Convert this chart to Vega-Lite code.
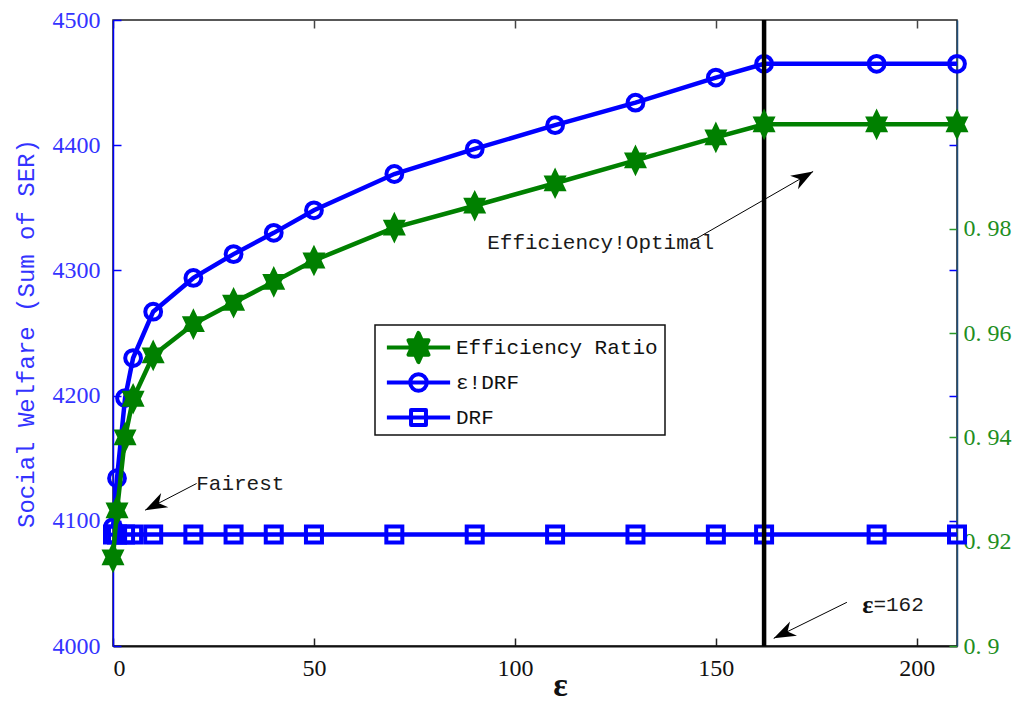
{
  "$schema": "https://vega.github.io/schema/vega-lite/v6.json",
  "width": 844,
  "height": 626,
  "autosize": "none",
  "padding": {"left": 113, "top": 20, "right": 59, "bottom": 55},
  "background": "white",
  "config": {"view": {"stroke": "#222222", "strokeWidth": 1.5}, "axis": {"grid": false}},
  "datasets": {
    "welfare": [
      {"eps": 0, "series": "ε!DRF", "value": 4095},
      {"eps": 1, "series": "ε!DRF", "value": 4134},
      {"eps": 3, "series": "ε!DRF", "value": 4198},
      {"eps": 5, "series": "ε!DRF", "value": 4230},
      {"eps": 10, "series": "ε!DRF", "value": 4267},
      {"eps": 20, "series": "ε!DRF", "value": 4294},
      {"eps": 30, "series": "ε!DRF", "value": 4313},
      {"eps": 40, "series": "ε!DRF", "value": 4330},
      {"eps": 50, "series": "ε!DRF", "value": 4348},
      {"eps": 70, "series": "ε!DRF", "value": 4377},
      {"eps": 90, "series": "ε!DRF", "value": 4397},
      {"eps": 110, "series": "ε!DRF", "value": 4416},
      {"eps": 130, "series": "ε!DRF", "value": 4434},
      {"eps": 150, "series": "ε!DRF", "value": 4454},
      {"eps": 162, "series": "ε!DRF", "value": 4465},
      {"eps": 190, "series": "ε!DRF", "value": 4465},
      {"eps": 210, "series": "ε!DRF", "value": 4465},
      {"eps": 0, "series": "DRF", "value": 4089},
      {"eps": 1, "series": "DRF", "value": 4089},
      {"eps": 3, "series": "DRF", "value": 4089},
      {"eps": 5, "series": "DRF", "value": 4089},
      {"eps": 10, "series": "DRF", "value": 4089},
      {"eps": 20, "series": "DRF", "value": 4089},
      {"eps": 30, "series": "DRF", "value": 4089},
      {"eps": 40, "series": "DRF", "value": 4089},
      {"eps": 50, "series": "DRF", "value": 4089},
      {"eps": 70, "series": "DRF", "value": 4089},
      {"eps": 90, "series": "DRF", "value": 4089},
      {"eps": 110, "series": "DRF", "value": 4089},
      {"eps": 130, "series": "DRF", "value": 4089},
      {"eps": 150, "series": "DRF", "value": 4089},
      {"eps": 162, "series": "DRF", "value": 4089},
      {"eps": 190, "series": "DRF", "value": 4089},
      {"eps": 210, "series": "DRF", "value": 4089}
    ],
    "ratio": [
      {"eps": 0, "series": "Efficiency Ratio", "value": 0.917},
      {"eps": 1, "series": "Efficiency Ratio", "value": 0.926},
      {"eps": 3, "series": "Efficiency Ratio", "value": 0.940},
      {"eps": 5, "series": "Efficiency Ratio", "value": 0.9474},
      {"eps": 10, "series": "Efficiency Ratio", "value": 0.9557},
      {"eps": 20, "series": "Efficiency Ratio", "value": 0.9617},
      {"eps": 30, "series": "Efficiency Ratio", "value": 0.9658},
      {"eps": 40, "series": "Efficiency Ratio", "value": 0.9698},
      {"eps": 50, "series": "Efficiency Ratio", "value": 0.9739},
      {"eps": 70, "series": "Efficiency Ratio", "value": 0.9802},
      {"eps": 90, "series": "Efficiency Ratio", "value": 0.9844},
      {"eps": 110, "series": "Efficiency Ratio", "value": 0.9887},
      {"eps": 130, "series": "Efficiency Ratio", "value": 0.9931},
      {"eps": 150, "series": "Efficiency Ratio", "value": 0.9975},
      {"eps": 162, "series": "Efficiency Ratio", "value": 1.0},
      {"eps": 190, "series": "Efficiency Ratio", "value": 1.0},
      {"eps": 210, "series": "Efficiency Ratio", "value": 1.0}
    ],
    "optimum": [{"eps": 162}],
    "notes": [
      {"eps": 93.1, "value": 4321.6, "text": "Efficiency!Optimal"},
      {"eps": 20.7, "value": 4129, "text": "Fairest"},
      {"eps": 189.2, "value": 4032.7, "text": "=162"}
    ],
    "symbolNote": [{"eps": 189.2, "value": 4032.7, "text": "ε"}],
    "arrows": [
      {"arrow": "optimal", "eps": 144.4, "value": 4324, "eps2": 174.2, "value2": 4379},
      {"arrow": "fairest", "eps": 20.8, "value": 4129.8, "eps2": 8, "value2": 4108.5},
      {"arrow": "eps162", "eps": 182.6, "value": 4034.9, "eps2": 164.4, "value2": 4006.1}
    ]
  },
  "layer": [
    {
      "layer": [
        {
          "data": {"name": "welfare"},
          "mark": {"type": "line", "strokeWidth": 4.5},
          "encoding": {
            "x": {
              "field": "eps", "type": "quantitative",
              "scale": {"domain": [0, 210], "nice": false, "zero": false},
              "axis": {
                "orient": "bottom", "values": [0, 50, 100, 150, 200],
                "tickSize": -8, "tickColor": "#222222", "tickWidth": 1.5,
                "domainColor": "#111111", "domainWidth": 2,
                "labelFont": "Liberation Serif", "labelFontSize": 24, "labelColor": "#111111", "labelPadding": 18,
                "title": "ε", "titleFont": "Liberation Serif", "titleFontSize": 34, "titleFontWeight": "bold",
                "titleColor": "#111111", "titleX": 447, "titleY": 49, "titleBaseline": "alphabetic"
              }
            },
            "y": {
              "field": "value", "type": "quantitative",
              "scale": {"domain": [4000, 4500], "nice": false, "zero": false},
              "axis": {
                "orient": "left", "values": [4000, 4100, 4200, 4300, 4400, 4500], "format": "d",
                "tickSize": -8, "tickColor": "#0000ff", "tickWidth": 1.5,
                "domainColor": "#0000ff", "domainWidth": 1.5,
                "labelFont": "Liberation Serif", "labelFontSize": 24, "labelColor": "#3333ff", "labelPadding": 21,
                "title": "Social Welfare (Sum of SER)", "titleFont": "Liberation Mono", "titleFontSize": 24,
                "titleFontWeight": "normal", "titleColor": "#3333ff", "titlePadding": 14
              }
            },
            "color": {
              "field": "series", "type": "nominal",
              "scale": {"domain": ["Efficiency Ratio", "ε!DRF", "DRF"], "range": ["#008000", "#0000ff", "#0000ff"]},
              "legend": {
                "title": null, "orient": "none", "legendX": 262, "legendY": 305,
                "padding": 7, "strokeColor": "#111111", "fillColor": "white",
                "labelFont": "Liberation Mono", "labelFontSize": 21, "labelColor": "#111111", "labelLimit": 400,
                "symbolSize": 700, "symbolStrokeWidth": 4, "rowPadding": 2, "gridAlign": "all",
                "encode": {
                  "symbols": {
                    "update": {
                      "shape": {"signal": "datum.value === 'DRF' ? 'M-2.39,0 L2.39,0 M-0.565,-0.565 L0.565,-0.565 L0.565,0.565 L-0.565,0.565 Z' : datum.value === 'Efficiency Ratio' ? 'M-2.39,0 L2.39,0 M0,-1.1 L0.254,-0.55 L0.76,-0.55 L0.506,0 L0.76,0.55 L0.254,0.55 L0,1.1 L-0.254,0.55 L-0.76,0.55 L-0.506,0 L-0.76,-0.55 L-0.254,-0.55 Z' : 'M-2.39,0 L2.39,0 M0.628,0 A0.628,0.628 0 1,1 -0.628,0 A0.628,0.628 0 1,1 0.628,0'"},
                      "fill": {"signal": "datum.value === 'Efficiency Ratio' ? '#008000' : 'transparent'"},
                      "x": {"value": 36.5},
                      "strokeWidth": {"value": 4},
                      "strokeJoin": {"value": "round"}
                    }
                  },
                  "labels": {"update": {"x": {"value": 74}}},
                  "legend": {"update": {"strokeWidth": {"value": 1.5}}}
                }
              }
            }
          }
        },
        {
          "data": {"name": "welfare"},
          "transform": [{"filter": "datum.series === 'ε!DRF'"}],
          "mark": {"type": "point", "shape": "circle", "filled": false, "strokeWidth": 4, "size": 250, "color": "#0000ff", "opacity": 1},
          "encoding": {
            "x": {"field": "eps", "type": "quantitative", "scale": {"domain": [0, 210], "nice": false, "zero": false}},
            "y": {"field": "value", "type": "quantitative", "scale": {"domain": [4000, 4500], "nice": false, "zero": false}}
          }
        },
        {
          "data": {"name": "welfare"},
          "transform": [{"filter": "datum.series === 'DRF'"}],
          "mark": {"type": "point", "shape": "square", "filled": false, "strokeWidth": 4, "size": 256, "color": "#0000ff", "opacity": 1},
          "encoding": {
            "x": {"field": "eps", "type": "quantitative", "scale": {"domain": [0, 210], "nice": false, "zero": false}},
            "y": {"field": "value", "type": "quantitative", "scale": {"domain": [4000, 4500], "nice": false, "zero": false}}
          }
        },
        {
          "data": {"name": "optimum"},
          "mark": {"type": "rule", "color": "#000000", "strokeWidth": 4.5},
          "encoding": {
            "x": {"field": "eps", "type": "quantitative", "scale": {"domain": [0, 210], "nice": false, "zero": false}}
          }
        },
        {
          "data": {"name": "arrows"},
          "mark": {"type": "rule", "color": "#000000", "strokeWidth": 1},
          "encoding": {
            "x": {"field": "eps", "type": "quantitative"},
            "y": {"field": "value", "type": "quantitative"},
            "x2": {"field": "eps2"},
            "y2": {"field": "value2"}
          }
        },
        {
          "data": {"name": "arrows"},
          "transform": [{"filter": "datum.arrow === 'optimal'"}],
          "mark": {"type": "point", "filled": true, "color": "#000000", "opacity": 1, "size": 1936, "angle": 60,
                   "shape": "M0,0 L0.36,1 L0,0.7 L-0.36,1 Z"},
          "encoding": {
            "x": {"field": "eps2", "type": "quantitative"},
            "y": {"field": "value2", "type": "quantitative"}
          }
        },
        {
          "data": {"name": "arrows"},
          "transform": [{"filter": "datum.arrow === 'fairest'"}],
          "mark": {"type": "point", "filled": true, "color": "#000000", "opacity": 1, "size": 1936, "angle": 243,
                   "shape": "M0,0 L0.36,1 L0,0.7 L-0.36,1 Z"},
          "encoding": {
            "x": {"field": "eps2", "type": "quantitative"},
            "y": {"field": "value2", "type": "quantitative"}
          }
        },
        {
          "data": {"name": "arrows"},
          "transform": [{"filter": "datum.arrow === 'eps162'"}],
          "mark": {"type": "point", "filled": true, "color": "#000000", "opacity": 1, "size": 1936, "angle": 244,
                   "shape": "M0,0 L0.36,1 L0,0.7 L-0.36,1 Z"},
          "encoding": {
            "x": {"field": "eps2", "type": "quantitative"},
            "y": {"field": "value2", "type": "quantitative"}
          }
        },
        {
          "data": {"name": "notes"},
          "mark": {"type": "text", "align": "left", "baseline": "middle", "font": "Liberation Mono", "fontSize": 21, "color": "#1a1a1a"},
          "encoding": {
            "x": {"field": "eps", "type": "quantitative"},
            "y": {"field": "value", "type": "quantitative"},
            "text": {"field": "text"}
          }
        },
        {
          "data": {"name": "symbolNote"},
          "mark": {"type": "text", "align": "right", "baseline": "middle", "font": "Liberation Serif", "fontSize": 26, "fontWeight": "bold", "color": "#111111"},
          "encoding": {
            "x": {"field": "eps", "type": "quantitative"},
            "y": {"field": "value", "type": "quantitative"},
            "text": {"field": "text"}
          }
        }
      ]
    },
    {
      "data": {"name": "ratio"},
      "layer": [
        {
          "mark": {"type": "line", "strokeWidth": 4.5},
          "encoding": {
            "color": {"field": "series", "type": "nominal"}
          }
        },
        {
          "mark": {"type": "point", "filled": true, "color": "#008000", "opacity": 1, "size": 1000,
                   "shape": "M0,-1 L0.243,-0.5 L0.727,-0.5 L0.485,0 L0.727,0.5 L0.243,0.5 L0,1 L-0.243,0.5 L-0.727,0.5 L-0.485,0 L-0.727,-0.5 L-0.243,-0.5 Z"}
        }
      ],
      "encoding": {
        "x": {
          "field": "eps", "type": "quantitative",
          "scale": {"domain": [0, 210], "nice": false, "zero": false},
          "axis": {"orient": "top", "values": [0, 50, 100, 150, 200], "labels": false, "domain": false,
                   "tickSize": -8, "tickColor": "#444444", "tickWidth": 1.5, "title": null}
        },
        "y": {
          "field": "value", "type": "quantitative",
          "scale": {"domain": [0.9, 1.02], "nice": false, "zero": false},
          "axis": {
            "orient": "right", "values": [0.9, 0.92, 0.924, 0.94, 0.948, 0.96, 0.972, 0.98, 0.996],
            "labelExpr": "round(datum.value * 1000) % 20 != 0 ? '' : replace(format(datum.value, '~g'), '.', '. ')",
            "tickSize": -8,
            "tickColor": {"condition": {"test": "round(datum.value * 1000) % 20 != 0", "value": "#0000ff"}, "value": "#2a9a2a"},
            "tickWidth": 1.5,
            "domainColor": "#1f4e79", "domainWidth": 1.5,
            "labelFont": "Liberation Serif", "labelFontSize": 24, "labelColor": "#1f8f1f", "labelPadding": 14,
            "title": null
          }
        }
      }
    }
  ],
  "resolve": {"scale": {"y": "independent"}, "axis": {"x": "independent"}}
}
